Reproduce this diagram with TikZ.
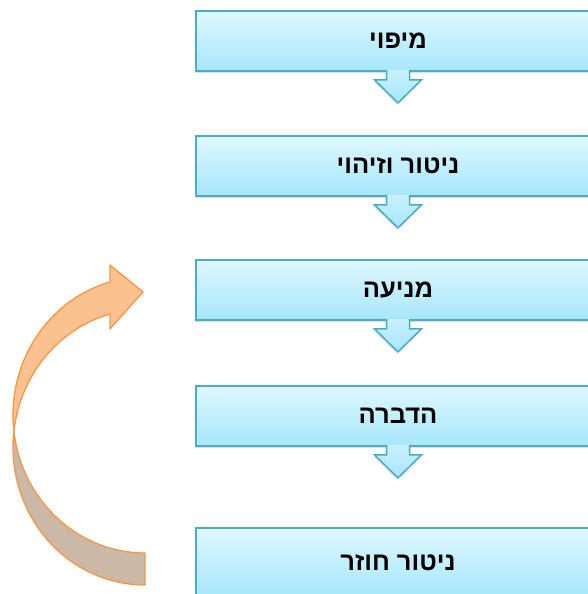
\documentclass[tikz,border=0pt]{standalone}
\usepackage{fontspec}
\newfontfamily\hebfont[Script=Hebrew]{Liberation Sans}
\TeXXeTstate=1
\usetikzlibrary{shadows}
\definecolor{boxtop}{HTML}{DEF7FE}
\definecolor{boxbot}{HTML}{A6E7FC}
\definecolor{boxline}{HTML}{4BACC6}
\definecolor{arrtop}{HTML}{C8F0FE}
\definecolor{loopline}{HTML}{F79646}
\definecolor{loopfront}{HTML}{FBC18F}
\definecolor{loopback}{HTML}{CBB8A6}
\newcommand{\heb}[1]{\hebfont\bfseries\beginR #1\endR}

\begin{document}
\begin{tikzpicture}[x=1pt,y=1pt,
  every node/.style={font=\fontsize{25.5}{28}\selectfont},
  stage/.style={draw=boxline,line width=1.8pt,top color=boxtop,bottom color=boxbot,
    minimum width=404pt,minimum height=60pt,inner sep=0pt,
    drop shadow={shadow xshift=-1.5pt,shadow yshift=-2.5pt,opacity=0.25}},
  downarr/.style={draw=boxline,line width=1.5pt,top color=arrtop,bottom color=boxbot,
    drop shadow={shadow xshift=-1pt,shadow yshift=-2pt,opacity=0.2}},
  loopband/.style={draw=loopline,line width=1.3pt,line join=round}]
    \path[use as bounding box,clip] (0,0) rectangle (588,594);
    % stages
    \node[stage] (map) at (398,553) {\heb{מיפוי}};
    \node[stage] (detect) at (398,428) {\heb{ניטור וזיהוי}};
    \node[stage] (prevent) at (398,304) {\heb{מניעה}};
    \node[stage] (control) at (398,178) {\heb{הדברה}};
    \node[stage,minimum height=70pt] (recheck) at (398,31) {\heb{ניטור חוזר}};
    \foreach \s in {map,detect,prevent,control}
      \draw[downarr] (\s.south) ++(-11.5,2) -- ++(0,-10) -- ++(-12,0) -- ++(23.5,-23)
        -- ++(23.5,23) -- ++(-12,0) -- ++(0,10);
    % loop back
    \draw[loopband,fill=loopback] (145,41)
      arc[start angle=270,end angle=186.66,x radius=132pt,y radius=138pt]
      arc[start angle=173.34,end angle=270,x radius=132pt,y radius=138pt] -- cycle;
    \draw[loopband,fill=loopfront] (110,312)
      arc[start angle=105.4,end angle=186.66,x radius=132pt,y radius=138pt]
      arc[start angle=173.34,end angle=105.4,x radius=132pt,y radius=138pt]
      -- (110,265) -- (143,302) -- (110,329) -- cycle;
\end{tikzpicture}
\end{document}
